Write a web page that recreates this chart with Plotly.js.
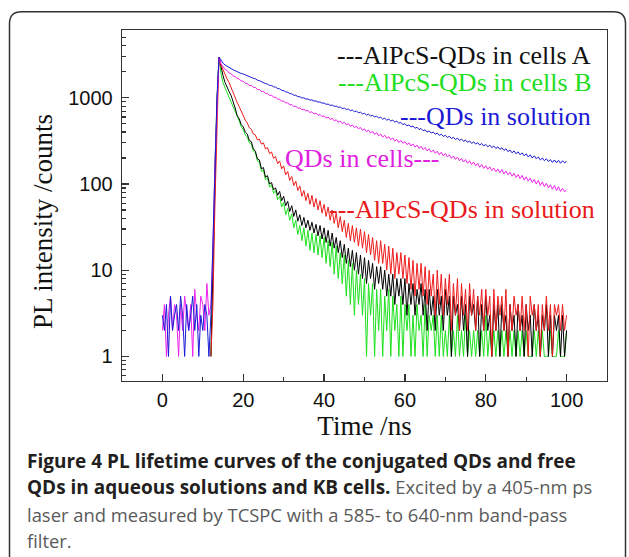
<!DOCTYPE html>
<html>
<head>
<meta charset="utf-8">
<script src="https://cdn.plot.ly/plotly-3.0.1.min.js"></script>
<style>html,body{margin:0;padding:0;background:#fff;}#chart{width:629px;height:557px;}</style>
</head>
<body>
<div id="chart"></div>
<script>
// Time axis (ns)
const time = [0,0.5,1,1.5,2,2.5,3,3.5,4,4.5,5,5.5,6,6.5,7,7.5,8,8.5,9,9.5,
10,10.5,11,11.5,12,12.5,13,13.5,14,14.5,15,15.5,16,16.5,17,17.5,18,18.5,19,19.5,
20,20.5,21,21.5,22,22.5,23,23.5,24,24.5,25,25.5,26,26.5,27,27.5,28,28.5,29,29.5,
30,30.5,31,31.5,32,32.5,33,33.5,34,34.5,35,35.5,36,36.5,37,37.5,38,38.5,39,39.5,
40,40.5,41,41.5,42,42.5,43,43.5,44,44.5,45,45.5,46,46.5,47,47.5,48,48.5,49,49.5,
50,50.5,51,51.5,52,52.5,53,53.5,54,54.5,55,55.5,56,56.5,57,57.5,58,58.5,59,59.5,
60,60.5,61,61.5,62,62.5,63,63.5,64,64.5,65,65.5,66,66.5,67,67.5,68,68.5,69,69.5,
70,70.5,71,71.5,72,72.5,73,73.5,74,74.5,75,75.5,76,76.5,77,77.5,78,78.5,79,79.5,
80,80.5,81,81.5,82,82.5,83,83.5,84,84.5,85,85.5,86,86.5,87,87.5,88,88.5,89,89.5,
90,90.5,91,91.5,92,92.5,93,93.5,94,94.5,95,95.5,96,96.5,97,97.5,98,98.5,99,99.5,100];

// QDs in solution (blue)
const qdsSolution = [3,2,4,1,5,2,3,4,2,5,3,1,4,2,3,5,2,4,1,3,2,4,3,1,
3,20,200,1000,
2950,2700,2520,2400,2310,2240,2170,2110,2060,2000,
1960,1910,1890,1840,1810,1760,1730,1680,1660,1600,
1580,1530,1510,1460,1440,1390,1390,1340,1330,1280,
1270,1220,1210,1170,1160,1120,1110,1070,1070,1030,
1030,995,1000,965,970,940,945,915,920,890,
895,865,870,840,845,815,825,795,800,775,
780,750,760,730,740,710,720,690,700,670,
680,650,660,630,645,615,625,600,610,585,
595,565,580,550,565,538,550,522,535,508,
515,490,500,472,485,458,470,443,455,428,
440,415,425,400,412,390,400,378,390,366,
378,356,368,346,358,337,348,328,340,320,
332,312,324,304,316,296,308,290,302,283,
295,276,288,270,282,264,276,258,270,252,
264,245,256,237,248,230,242,224,236,218,
230,212,224,206,218,200,212,196,206,190,
200,186,196,182,192,178,190,176,188,174,
186,176,182];

// QDs in cells (magenta)
const qdsCells = [2,4,1,3,5,2,4,3,1,4,2,5,3,2,4,1,6,3,2,5,4,2,7,3,
4,18,180,950,
2950,2480,2320,2130,2070,1940,1900,1790,1760,1680,
1650,1560,1560,1470,1470,1380,1390,1320,1320,1240,
1250,1180,1190,1120,1120,1060,1075,1010,1020,960,
965,910,920,870,875,825,835,790,800,755,
765,725,740,700,712,675,688,650,665,625,
640,605,618,582,598,560,578,540,556,522,
538,503,520,485,500,468,484,450,468,436,
452,420,436,404,422,390,408,376,394,362,
380,350,368,338,354,326,342,314,330,302,
320,296,310,286,300,276,292,268,282,258,
274,250,265,242,256,234,248,227,240,218,
233,212,226,206,218,198,211,193,205,186,
198,180,192,174,186,168,180,162,174,156,
168,152,163,148,158,143,153,139,149,135,
147,131,141,128,137,123,133,119,129,115,
126,111,121,108,117,104,113,100,110,96,
106,93,102,90,98,87,96,84,93,82,
89,81,86];

// AlPcS-QDs in solution (red)
const alpcsSolution = [null,null,null,null,null,null,null,null,null,null,null,null,
null,null,null,null,null,null,null,null,null,null,null,null,
1,4,60,600,
2950,2400,2100,1850,1650,1500,1300,1150,1000,880,
790,690,630,550,510,450,430,380,370,325,
330,290,300,255,265,225,235,198,208,172,
185,150,162,128,140,110,122,96,108,84,
95,72,84,64,78,58,74,54,68,50,
64,46,58,42,54,38,50,35,46,31,
42,28,38,24,35,22,33,21,31,19,
30,18,28,16,26,15,24,13,22,12,
22,12,20,10,19,9,18,8,16,9,
16,8,15,7,14,6,13,5,12,6,
12,5,11,4,10,5,9,3,10,4,
9,3,8,4,9,2,7,3,8,2,
7,3,6,2,7,3,6,2,5,3,
6,2,6,3,5,1,6,2,5,3,
5,2,6,1,4,2,5,3,4,2,
5,2,4,1,5,3,4,2,4,1,
4,2,5,2,4,1,4,3,4,2,
4,2,3];

// AlPcS-QDs in cells A (black)
const alpcsCellsA = [null,null,null,null,null,null,null,null,null,null,null,null,
null,null,null,null,null,null,null,null,null,null,null,null,
1,12,150,900,
2950,2200,1800,1500,1300,1180,1060,920,760,620,
570,490,460,400,380,320,310,255,240,195,
190,150,155,120,125,100,104,86,90,74,
82,64,72,56,63,48,56,42,50,37,
44,33,41,31,38,29,36,27,34,25,
33,23,31,21,29,19,27,18,24,16,
22,14,20,12,18,11,17,10,16,9,
15,8,14,7,13,8,12,6,11,7,
11,6,10,5,9,5,9,4,8,5,
8,4,8,3,7,4,7,3,6,4,
7,3,6,2,6,3,5,2,6,3,
5,2,6,3,5,1,5,3,4,2,
5,2,4,1,5,3,4,2,5,1,
4,2,5,2,3,1,4,2,4,1,
4,2,3,1,4,2,3,1,4,2,
3,1,4,2,3,1,4,2,3,1,
3,2,4,1,3,1,3,2,3,1,
3,1,2];

// AlPcS-QDs in cells B (green)
const alpcsCellsB = [null,null,null,null,null,null,null,null,null,null,null,null,
null,null,null,null,null,null,null,null,null,null,null,null,
1,14,170,950,
2950,1900,1500,1300,1150,1020,900,780,680,600,
540,460,430,370,350,300,290,240,230,185,
180,140,145,112,118,92,98,78,84,66,
72,54,61,44,52,38,45,31,38,26,
33,22,31,19,29,17,27,16,26,15,
25,14,24,12,22,11,21,9,19,8,
16,7,15,5,13,4,12,3,10,4,
9,3,8,1,7,3,7,1,6,2,
6,1,5,2,6,1,5,2,4,1,
5,1,4,2,4,1,3,1,4,2,
3,1,4,1,3,2,3,1,3,1,
3,1,2,1,3,1,2,1,3,1,
2,1,3,1,2,1,2,1,2,1,
2,1,3,1,2,1,2,1,2,1,
2,1,2,1,2,1,2,1,2,1,
2,1,2,1,1,1,2,1,2,1,
2,1,1,1,2,1,1,1,2,1,
1,1,2];

const seriesNames = ["AlPcS-QDs in cells B","AlPcS-QDs in cells A","AlPcS-QDs in solution","QDs in cells","QDs in solution"];
const seriesValues = [alpcsCellsB, alpcsCellsA, alpcsSolution, qdsCells, qdsSolution];
const seriesColors = ["#1ee01e","#000000","#ee1c1c","#ee22ee","#1a1ad6"];

const labelTexts = ["---AlPcS-QDs in cells A","---AlPcS-QDs in cells B","---QDs in solution","QDs in cells---","---AlPcS-QDs in solution"];
const labelColors = ["#111111","#22dd22","#1a1ad6","#e020e0","#e81a1a"];

const xTickVals = [0,20,40,60,80,100];
const yTickVals = [1,10,100,1000];
const yTickText = ["1","10","100","1000"];

// plot-area geometry in pixels (for placing paper-referenced items)
const L = 122, R = 607, T = 30, B = 381;
const px = v => (v - L) / (R - L);
const py = v => (B - v) / (B - T);

const traces = seriesValues.map((vals, i) => ({
  x: time, y: vals, type: "scatter", mode: "lines", name: seriesNames[i],
  line: {color: seriesColors[i], width: 1}, connectgaps: false, hoverinfo: "skip"
}));

const serif = "'Liberation Serif', 'Times New Roman', serif";
const sans = "'Liberation Sans', Arial, sans-serif";
const cap = "'Open Sans', 'Noto Sans', sans-serif";

const labelPos = [[593,55],[593,82.5],[593,116.5],[442,158],[597,210]];
const annotations = labelTexts.map((t, i) => ({
  text: t, xref: "paper", yref: "paper", x: px(labelPos[i][0]), y: py(labelPos[i][1]),
  xanchor: "right", yanchor: "middle", showarrow: false,
  font: {family: serif, size: 26, color: labelColors[i]}
}));

annotations.push({
  text: "PL intensity /counts", xref: "paper", yref: "paper", x: px(43), y: py(222),
  xanchor: "center", yanchor: "middle", textangle: -90, showarrow: false,
  font: {family: serif, size: 27, color: "#111"}
});

const boldStyle = "font-size:19px;color:#231f20";
const captionLines = [
  `<span style='${boldStyle}'><b>Figure 4 PL lifetime curves of the conjugated QDs and free</b></span>`,
  `<span style='${boldStyle}'><b>QDs in aqueous solutions and KB cells.</b></span> Excited by a 405-nm ps`,
  "laser and measured by TCSPC with a 585- to 640-nm band-pass",
  "filter."
];
const captionY = [461, 487, 514, 540];
captionLines.forEach((t, i) => annotations.push({
  text: t, xref: "paper", yref: "paper", x: px(25), y: py(captionY[i]),
  xanchor: "left", yanchor: "middle", showarrow: false, align: "left",
  font: {family: cap, size: 18.4, color: "#5a5a5a"}
}));

const r = 12, bl = 9.5, bt = 11.7, br = 625.5, bb = 575;
const borderPath = `M ${px(bl)} ${py(bb)} L ${px(bl)} ${py(bt + r)} Q ${px(bl)} ${py(bt)} ${px(bl + r)} ${py(bt)} ` +
  `L ${px(br - r)} ${py(bt)} Q ${px(br)} ${py(bt)} ${px(br)} ${py(bt + r)} L ${px(br)} ${py(bb)}`;

const layout = {
  width: 629, height: 557,
  margin: {l: L, r: 629 - R, t: T, b: 557 - B},
  paper_bgcolor: "#ffffff", plot_bgcolor: "#ffffff",
  showlegend: false,
  xaxis: {
    range: [-10, 110], tickvals: xTickVals, ticks: "inside", ticklen: 7, tickwidth: 1.2,
    tickcolor: "#333", showline: true, linecolor: "#333", linewidth: 1.3, mirror: true,
    showgrid: false, zeroline: false, ticklabelstandoff: 1,
    tickfont: {family: sans, size: 20, color: "#111"},
    minor: {dtick: 10, tick0: 0, ticks: "inside", ticklen: 4, tickcolor: "#333", showgrid: false},
    title: {text: "Time /ns", font: {family: serif, size: 27, color: "#111"}, standoff: 2}
  },
  yaxis: {
    type: "log", range: [-0.285, 3.786], tickvals: yTickVals, ticktext: yTickText,
    ticks: "inside", ticklen: 7, tickwidth: 1.2, tickcolor: "#333",
    showline: true, linecolor: "#333", linewidth: 1.3, mirror: true,
    showgrid: false, zeroline: false, ticklabelstandoff: 4,
    tickfont: {family: sans, size: 20, color: "#111"},
    minor: {dtick: "D1", ticks: "inside", ticklen: 4, tickcolor: "#333", showgrid: false}
  },
  annotations: annotations,
  shapes: [{type: "path", xref: "paper", yref: "paper", path: borderPath,
            line: {color: "#333", width: 1.5}, layer: "above"}]
};

Plotly.newPlot("chart", traces, layout, {staticPlot: true, displayModeBar: false});
</script>
</body>
</html>
